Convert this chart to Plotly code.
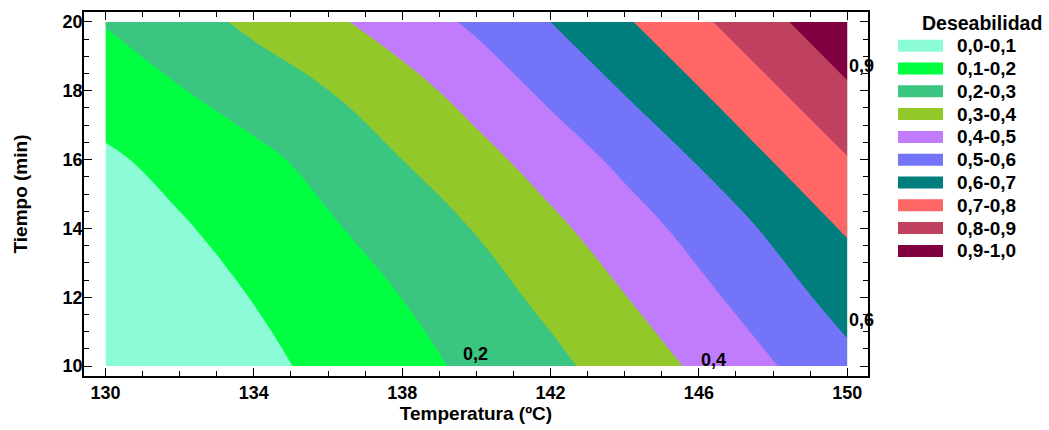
import plotly.graph_objects as go

# ---- data ----
temperatura = [130, 132, 134, 136, 138, 140, 142, 144, 146, 148, 150]
tiempo = [10, 12, 14, 16, 18, 20]
deseabilidad = [
    [0.000, 0.030, 0.076, 0.122, 0.169, 0.220, 0.277, 0.343, 0.416, 0.495, 0.573],
    [0.020, 0.060, 0.103, 0.152, 0.201, 0.260, 0.323, 0.397, 0.475, 0.555, 0.640],
    [0.050, 0.090, 0.138, 0.188, 0.245, 0.305, 0.378, 0.454, 0.534, 0.617, 0.710],
    [0.085, 0.131, 0.176, 0.232, 0.300, 0.368, 0.443, 0.524, 0.608, 0.703, 0.795],
    [0.146, 0.195, 0.247, 0.299, 0.364, 0.438, 0.522, 0.605, 0.695, 0.788, 0.886],
    [0.205, 0.261, 0.320, 0.381, 0.446, 0.518, 0.600, 0.689, 0.781, 0.878, 0.978],
]
legend_labels = ["0,0-0,1", "0,1-0,2", "0,2-0,3", "0,3-0,4", "0,4-0,5",
                 "0,5-0,6", "0,6-0,7", "0,7-0,8", "0,8-0,9", "0,9-1,0"]
band_colors = ["#8CFCD8", "#00FF40", "#3AC680", "#92C82A", "#C07CFC",
               "#7474F8", "#007E7E", "#FF6666", "#C04060", "#800040"]
level_labels = ["0,2", "0,4", "0,6", "0,9"]
level_label_T = [139.97, 146.4, 150.38, 150.38]
level_label_t = [10.35, 10.17, 11.34, 18.72]

# ---- figure ----
FONT = "Liberation Sans, Arial, sans-serif"
n = len(band_colors)
colorscale = [[i / (n - 1), c] for i, c in enumerate(band_colors)]

fig = go.Figure()
fig.add_trace(go.Contour(
    x=temperatura, y=tiempo, z=deseabilidad,
    autocontour=False,
    contours=dict(start=0.1, end=0.9, size=0.1, coloring="fill", showlines=False),
    colorscale=colorscale, showscale=False,
    line=dict(width=0, smoothing=1.3),
    hoverinfo="skip",
))

annotations = []
for txt, tx, ty in zip(level_labels, level_label_T, level_label_t):
    annotations.append(dict(x=tx, y=ty, xref="x", yref="y", text=txt, showarrow=False,
                            font=dict(family=FONT, size=18, color="black", weight="bold")))

# manual legend (pixel -> paper conversion)
L, R, T, B = 84, 868, 12, 376
W, H = R - L, B - T
def px(xp):
    return (xp - L) / W
def py(yp):
    return (B - yp) / H

shapes = []
annotations.append(dict(x=px(982), y=py(23), xref="paper", yref="paper", text="Deseabilidad",
                        showarrow=False, xanchor="center", yanchor="middle",
                        font=dict(family=FONT, size=19.5, color="black", weight="bold")))
for i, (lab, col) in enumerate(zip(legend_labels, band_colors)):
    yc = 45.7 + 22.8 * i
    shapes.append(dict(type="rect", xref="paper", yref="paper",
                       x0=px(898), x1=px(943), y0=py(yc + 6), y1=py(yc - 6),
                       fillcolor=col, line=dict(width=0)))
    annotations.append(dict(x=px(955), y=py(yc), xref="paper", yref="paper", text=lab,
                            showarrow=False, xanchor="left", yanchor="middle",
                            font=dict(family=FONT, size=19, color="black", weight="bold")))

axis_common = dict(
    ticks="inside", ticklen=8, tickwidth=1, tickcolor="black",
    showline=True, linecolor="black", linewidth=1.5, mirror="ticks",
    showgrid=False, zeroline=False, automargin=False,
    tickfont=dict(family=FONT, size=18, color="black", weight="bold"),
)
fig.update_xaxes(range=[129.42, 150.56], tick0=130, dtick=4,
                 minor=dict(dtick=1, ticks="inside", ticklen=5, tickcolor="black"),
                 title=dict(text="Temperatura (ºC)", standoff=4,
                            font=dict(family=FONT, size=19, color="black", weight="bold")),
                 **axis_common)
fig.update_yaxes(range=[9.71, 20.29], tick0=10, dtick=2, ticklabelstandoff=-4,
                 minor=dict(dtick=0.5, ticks="inside", ticklen=5, tickcolor="black"),
                 title=dict(text="Tiempo (min)", standoff=30,
                            font=dict(family=FONT, size=19, color="black", weight="bold")),
                 **axis_common)

fig.update_layout(
    width=1049, height=430,
    margin=dict(l=84, r=181, t=12, b=54),
    paper_bgcolor="white", plot_bgcolor="white",
    showlegend=False,
    shapes=shapes, annotations=annotations,
)

fig.write_html("out.html", config={"displayModeBar": False},
               post_script="document.body.style.margin='0px';document.body.style.padding='0px';")
